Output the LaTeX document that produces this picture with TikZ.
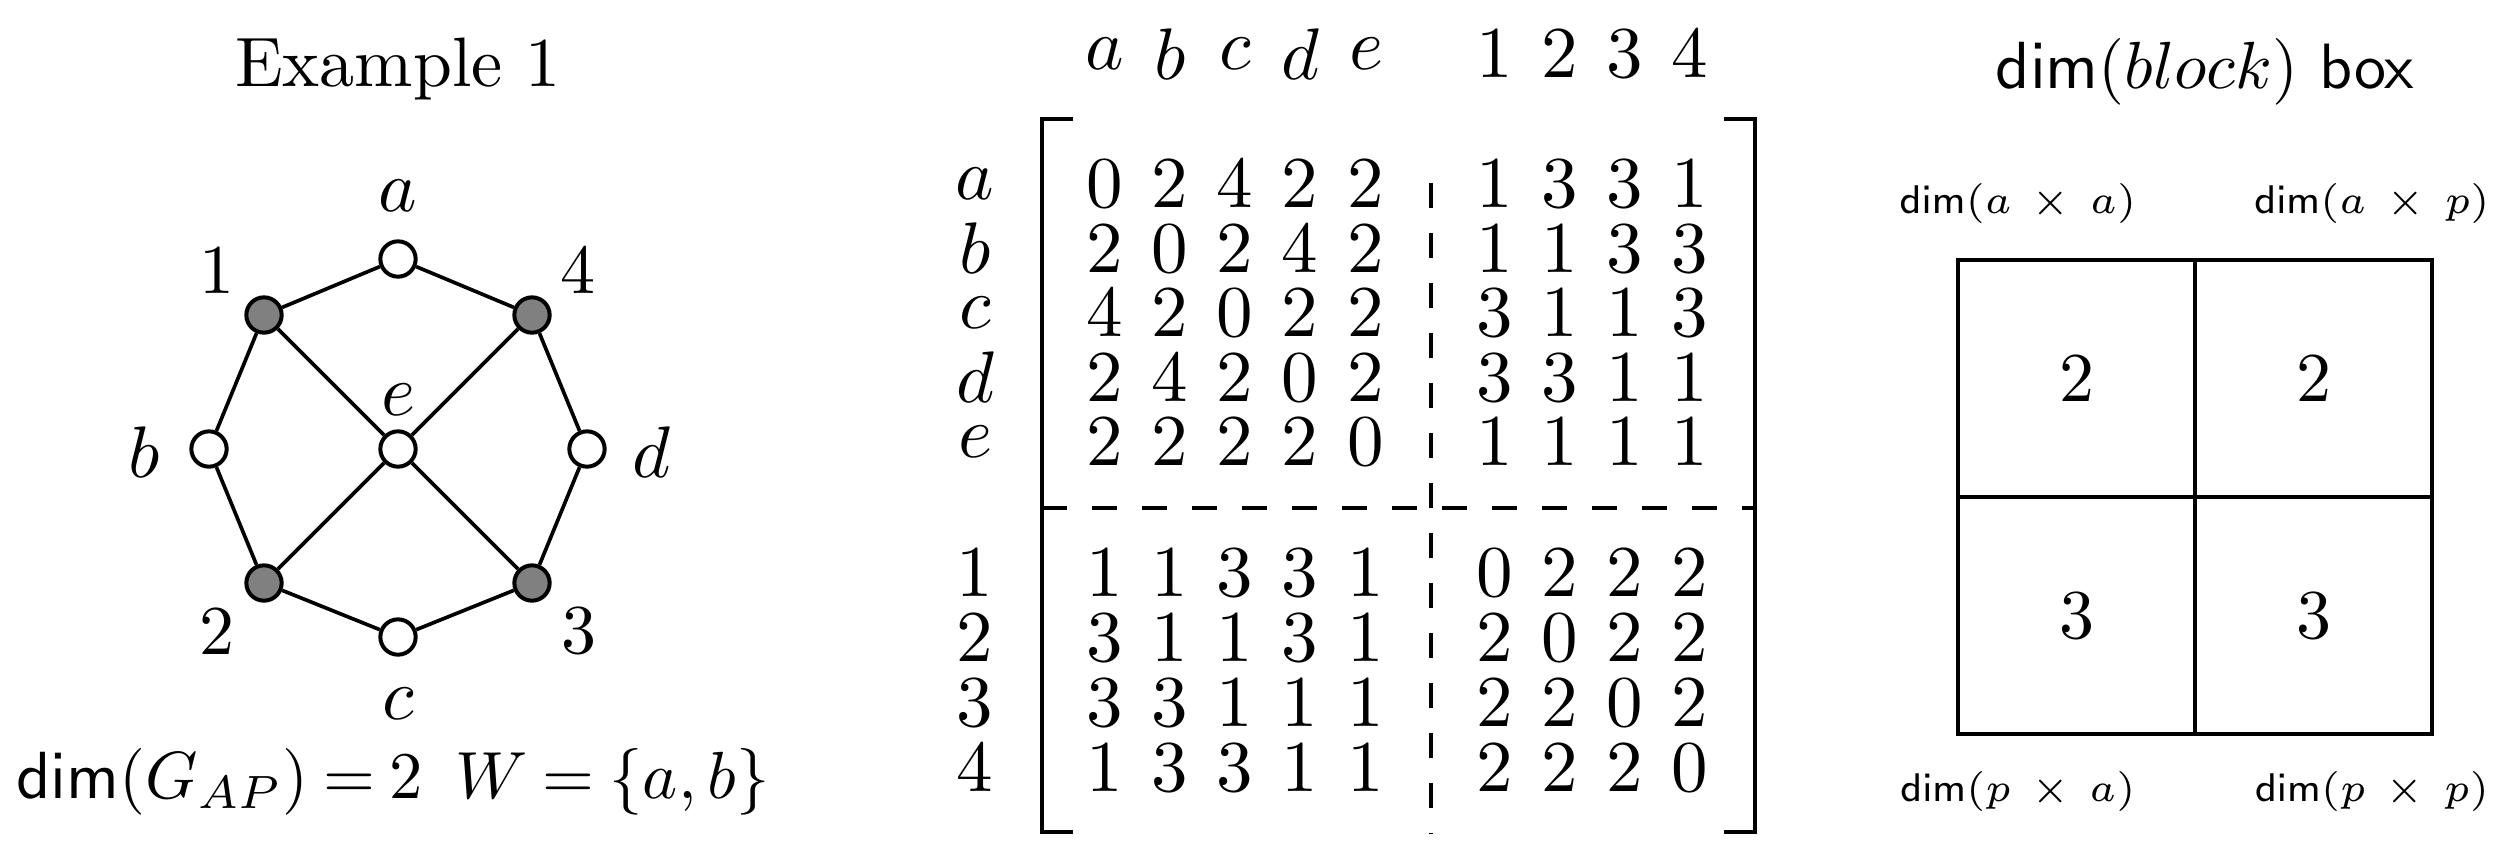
\documentclass[tikz,border=0pt]{standalone}
\begin{document}
\begin{tikzpicture}[x=0.15pt,y=-0.15pt,
  every node/.style={font=\fontsize{10.5}{12.5}\selectfont},
  gnode/.style={circle, draw, line width=0.6pt, minimum size=5.3pt, inner sep=0pt},
  wn/.style={gnode, fill=white},
  gn/.style={gnode, fill=gray},
  edge/.style={line width=0.55pt},
  lab/.style={inner sep=0pt},
  ent/.style={inner sep=0pt},
  small/.style={font=\fontsize{6.3}{7.5}\selectfont, inner sep=0pt, anchor=base},
  cell/.style={draw, line width=0.7pt, minimum width=35.55pt, minimum height=35.55pt, inner sep=0pt},
  brk/.style={line width=0.7pt},
  dsh/.style={line width=0.6pt, dash pattern=on 3.75pt off 3.75pt}]
\useasboundingbox (0,0) rectangle (2499,866);

% ---------- Example 1 graph ----------
\node[anchor=base] (t1) at (398,86) {Example 1};
\node[wn] (va) at (398,259) {};
\node[gn] (v1) at (264,315) {};
\node[gn] (v4) at (532,315) {};
\node[wn] (vb) at (209,449) {};
\node[wn] (ve) at (398,449) {};
\node[wn] (vd) at (587,449) {};
\node[gn] (v2) at (264,583) {};
\node[gn] (v3) at (532,583) {};
\node[wn] (vc) at (398,637) {};
\draw[edge] (v1) -- (va) -- (v4) -- (vd) -- (v3) -- (vc) -- (v2) -- (vb) -- (v1);
\draw[edge] (v1) -- (ve) -- (v3);
\draw[edge] (v4) -- (ve) -- (v2);
\node[lab] (la) at (398,196) {$a$};
\node[lab] (l1) at (217,270) {1};
\node[lab] (l4) at (578,270) {4};
\node[lab] (lb) at (144,452) {$b$};
\node[lab] (le) at (398,400) {$e$};
\node[lab] (ld) at (651,452) {$d$};
\node[lab] (l2) at (217,631) {2};
\node[lab] (l3) at (579,631) {3};
\node[lab] (lc) at (398,704) {$c$};
\node[anchor=base, font=\fontsize{9.7}{11.5}\selectfont] (form) at (393,798)
  {\thickmuskip=4mu plus 2mu\medmuskip=3mu plus 1mu$\mathsf{dim}(G_{AP}) = 2\ \,W = \{a,b\}$};

% ---------- matrix ----------
\foreach \h/\x [count=\j] in {a/1105,b/1170,c/1235,d/1300,e/1366,1/1495,2/1560,3/1625,4/1690}
  \node[ent] (h\j) at (\x,54) {$\h$};
\foreach \y/\lbl/\vals [count=\i] in {
  184/a/{0,2,4,2,2,1,3,3,1},
  248.5/b/{2,0,2,4,2,1,1,3,3},
  313/c/{4,2,0,2,2,3,1,1,3},
  377.5/d/{2,4,2,0,2,3,3,1,1},
  442/e/{2,2,2,2,0,1,1,1,1},
  573/1/{1,1,3,3,1,0,2,2,2},
  638/2/{3,1,1,3,1,2,0,2,2},
  703/3/{3,3,1,1,1,2,2,0,2},
  768/4/{1,3,3,1,1,2,2,2,0}}
{
  \node[ent] (r\i) at (975,\y) {$\lbl$};
  \foreach \v [count=\j] in \vals {
    \pgfmathsetmacro\xx{{1105,1170,1235,1300,1366,1495,1560,1625,1690}[\j-1]}
    \node[ent] (m\i-\j) at (\xx,\y) {$\v$};
  }
}
\coordinate (bl1) at (1073,119);
\coordinate (bl2) at (1042,119);
\coordinate (bl3) at (1042,832);
\coordinate (bl4) at (1073,832);
\coordinate (br1) at (1724,119);
\coordinate (br2) at (1755,119);
\coordinate (br3) at (1755,832);
\coordinate (br4) at (1724,832);
\draw[brk] (bl1) -- (bl2) -- (bl3) -- (bl4);
\draw[brk] (br1) -- (br2) -- (br3) -- (br4);
\coordinate (hd1) at (1042,508);
\coordinate (hd2) at (1755,508);
\coordinate (vd1) at (1431,183);
\coordinate (vd2) at (1431,834);
\draw[dsh] (hd1) -- (hd2);
\draw[dsh] (vd1) -- (vd2);

% ---------- dim(block) box ----------
\node[anchor=base, font=\fontsize{9.6}{11.5}\selectfont] (t3) at (2205,88) {$\mathsf{dim}(block)$ \textsf{box}};
\node[cell] (c11) at (2076.5,378.5) {2};
\node[cell] (c12) at (2313.5,378.5) {2};
\node[cell] (c21) at (2076.5,615.5) {3};
\node[cell] (c22) at (2313.5,615.5) {3};
\node[small] (s11) at (2018,213) {$\mathsf{dim}(a \,\times\, a)$};
\node[small] (s12) at (2372,213) {$\mathsf{dim}(a \,\times\, p)$};
\node[small] (s21) at (2018,801) {$\mathsf{dim}(p \,\times\, a)$};
\node[small] (s22) at (2372,801) {$\mathsf{dim}(p \,\times\, p)$};
\end{tikzpicture}
\end{document}
